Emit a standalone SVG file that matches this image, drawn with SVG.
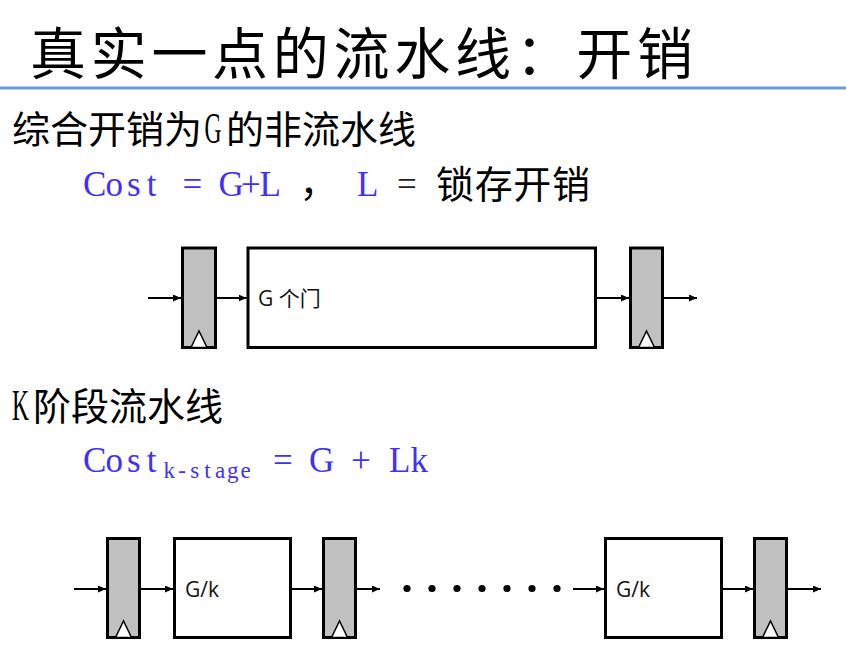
<svg xmlns="http://www.w3.org/2000/svg" width="846" height="664" viewBox="0 0 846 664">
<defs>
<style>
.cjk{font-family:"Noto Sans CJK SC",sans-serif;fill:#000}
.ser{font-family:"Liberation Serif","Noto Sans CJK SC",serif;fill:#000}
.f{font-family:"Liberation Serif",serif;fill:#4030ff;text-anchor:middle}
.lbl{font-family:"Open Sans","Noto Sans CJK SC",sans-serif;font-size:21px;fill:#111}
.latch{fill:#c0c0c0;stroke:#000;stroke-width:3}
.box{fill:#fff;stroke:#000;stroke-width:3}
.clk{fill:#fff;stroke:#000;stroke-width:1.5;stroke-linejoin:miter}
.wire{stroke:#000;stroke-width:2;fill:none;marker-end:url(#ah)}
</style>
<marker id="ah" markerUnits="userSpaceOnUse" markerWidth="9" markerHeight="8" refX="8" refY="3.5" orient="auto">
<path d="M0,0 L8,3.5 L0,7 z" fill="#000"/>
</marker>
</defs>
<rect width="846" height="664" fill="#fff"/>
<g id="title">
<text class="cjk" x="30" y="74" font-size="56" textLength="663" lengthAdjust="spacing">真实一点的流水线：开销</text>
<rect x="0" y="86.5" width="846" height="3" fill="#6a9bd1"/>
</g>
<g id="heading1">
<text class="cjk" x="12" y="143" font-size="38"><tspan textLength="190" lengthAdjust="spacing">综合开销为</tspan><tspan x="204.5" class="ser" font-size="44" textLength="17" lengthAdjust="spacingAndGlyphs">G</tspan><tspan x="226" textLength="190" lengthAdjust="spacing">的非流水线</tspan></text>
</g>
<g id="formula1">
<text class="f" y="196" font-size="35" x="94.75 114.25 133.75 151.5 192.25 231.25 250.75 270.25">Cost=G+L</text>
<text class="cjk" x="299.5" y="196" font-size="38">，</text>
<text class="f" y="196" font-size="35" x="367.75">L</text>
<text class="f" y="196" font-size="35" x="406.75" style="fill:#222">=</text>
<text class="cjk" x="436" y="198" font-size="38" textLength="154" lengthAdjust="spacing">锁存开销</text>
</g>
<g id="heading2">
<text class="cjk" x="12" y="420" font-size="38"><tspan class="ser" font-size="44" textLength="17" lengthAdjust="spacingAndGlyphs">K</tspan><tspan x="33" textLength="190" lengthAdjust="spacing">阶段流水线</tspan></text>
</g>
<g id="formula2">
<text class="f" y="472" font-size="35" x="94.75 114.25 133.75 151.5">Cost</text>
<text class="f" y="478" font-size="23" x="169.35 182.05 194.75 207.45 220.15 232.85 245.55">k-stage</text>
<text class="f" y="472" font-size="35" x="282.75 321.75 360.75 399.75 419.25">=G+Lk</text>
</g>
<g id="connectors">
<line class="wire" x1="148" y1="298" x2="181" y2="298"/>
<line class="wire" x1="217" y1="298" x2="246.5" y2="298"/>
<line class="wire" x1="597" y1="298" x2="629" y2="298"/>
<line class="wire" x1="664" y1="298" x2="697" y2="298"/>
<line class="wire" x1="74" y1="589" x2="106" y2="589"/>
<line class="wire" x1="141" y1="589" x2="173" y2="589"/>
<line class="wire" x1="292" y1="589" x2="322" y2="589"/>
<line class="wire" x1="357" y1="589" x2="380" y2="589"/>
<line class="wire" x1="573" y1="589" x2="604" y2="589"/>
<line class="wire" x1="723" y1="589" x2="753" y2="589"/>
<line class="wire" x1="788" y1="589" x2="821" y2="589"/>
</g>
<g id="latch-in1">
<rect class="latch" x="182.5" y="248" width="33" height="99.5"/>
<path class="clk" d="M191,347.5 L199,331 L207,347.5 Z"/>
</g>
<g id="logic-G">
<rect class="box" x="248" y="248" width="347.5" height="99.5"/>
<text class="lbl" x="258" y="306">G 个门</text>
</g>
<g id="latch-out1">
<rect class="latch" x="630.5" y="248" width="32" height="99.5"/>
<path class="clk" d="M638.5,347.5 L646.5,331 L654.5,347.5 Z"/>
</g>
<g id="latch-a">
<rect class="latch" x="107.5" y="538.5" width="32" height="99"/>
<path class="clk" d="M115.5,637.5 L123.5,621 L131.5,637.5 Z"/>
</g>
<g id="stage-1">
<rect class="box" x="174.5" y="538.5" width="116" height="99"/>
<text class="lbl" x="185" y="597">G/k</text>
</g>
<g id="latch-b">
<rect class="latch" x="323.5" y="538.5" width="32" height="99"/>
<path class="clk" d="M331.5,637.5 L339.5,621 L347.5,637.5 Z"/>
</g>
<g id="ellipsis">
<circle cx="407" cy="588.5" r="3.6"/>
<circle cx="432" cy="588.5" r="3.6"/>
<circle cx="457" cy="588.5" r="3.6"/>
<circle cx="482" cy="588.5" r="3.6"/>
<circle cx="507" cy="588.5" r="3.6"/>
<circle cx="532" cy="588.5" r="3.6"/>
<circle cx="557" cy="588.5" r="3.6"/>
</g>
<g id="stage-k">
<rect class="box" x="605.5" y="538.5" width="116" height="99"/>
<text class="lbl" x="616" y="597">G/k</text>
</g>
<g id="latch-c">
<rect class="latch" x="754.5" y="538.5" width="32" height="99"/>
<path class="clk" d="M762.5,637.5 L770.5,621 L778.5,637.5 Z"/>
</g>
</svg>
